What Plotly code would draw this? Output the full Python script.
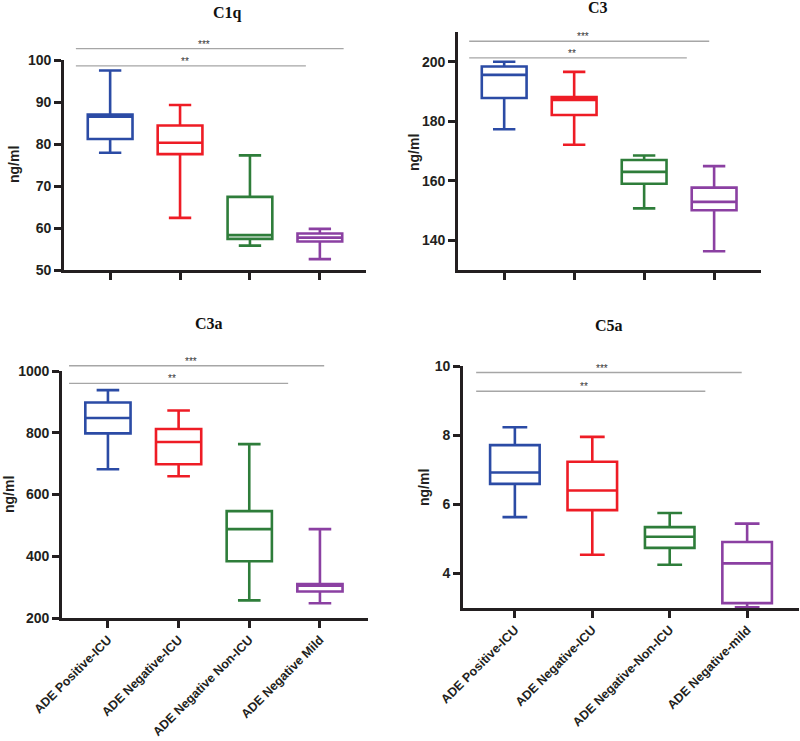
import plotly.graph_objects as go

# categories (bottom row carries the labels)
groups_c3a = ["ADE Positive-ICU", "ADE Negative-ICU", "ADE Negative Non-ICU", "ADE Negative Mild"]
groups_c5a = ["ADE Positive-ICU", "ADE Negative-ICU", "ADE Negative-Non-ICU", "ADE Negative-mild"]

colors = ["#2B4BA5", "#EE1C25", "#2E7D3A", "#8B40A2"]

# box statistics (ng/ml)
c1q_upper = [97.5, 89.3, 77.3, 59.8]
c1q_q3 = [87.0, 84.4, 67.4, 58.7]
c1q_median = [86.5, 80.3, 58.3, 57.7]
c1q_q1 = [81.2, 77.6, 57.4, 56.8]
c1q_lower = [77.9, 62.4, 55.8, 52.6]

c3_upper = [200.0, 196.6, 168.5, 164.9]
c3_q3 = [198.4, 188.1, 167.0, 157.7]
c3_median = [195.6, 187.2, 163.0, 152.9]
c3_q1 = [187.8, 182.1, 159.0, 150.1]
c3_lower = [177.3, 172.1, 150.7, 136.3]

c3a_upper = [938, 872, 763, 488]
c3a_q3 = [898, 812, 546, 310]
c3a_median = [848, 770, 488, 305]
c3a_q1 = [798, 698, 384, 286]
c3a_lower = [682, 659, 257, 248]

c5a_upper = [8.23, 7.95, 5.75, 5.44]
c5a_q3 = [7.71, 7.23, 5.34, 4.91]
c5a_median = [6.92, 6.40, 5.06, 4.29]
c5a_q1 = [6.59, 5.83, 4.74, 3.14]
c5a_lower = [5.63, 4.54, 4.25, 3.02]

# significance bars: (label, y, x start, x end)
c1q_sig = [("***", 102.7, -0.49, 3.34), ("**", 98.6, -0.49, 2.80)]
c3_sig = [("***", 206.9, -0.50, 2.93), ("**", 201.3, -0.50, 2.61)]
c3a_sig = [("***", 1017, -0.55, 3.06), ("**", 960, -0.55, 2.55)]
c5a_sig = [("***", 9.81, -0.50, 2.93), ("**", 9.27, -0.50, 2.46)]

W, H = 800, 741
ink = "#231F20"

panels = [
    dict(name="C1q", cats=groups_c3a, stats=(c1q_lower, c1q_q1, c1q_median, c1q_q3, c1q_upper),
         sig=c1q_sig, yrange=[50, 100], ytick=10, xrange=[-0.66, 3.66],
         box=(64, 366, 60, 270), title=(227, 13), ylab=(14, 165), labels=False),
    dict(name="C3", cats=groups_c5a, stats=(c3_lower, c3_q1, c3_median, c3_q3, c3_upper),
         sig=c3_sig, yrange=[130, 210], ytick=20, xrange=[-0.66, 3.67],
         box=(458, 761, 32, 270), title=(598, 8), ylab=(414, 152), labels=False),
    dict(name="C3a", cats=groups_c3a, stats=(c3a_lower, c3a_q1, c3a_median, c3a_q3, c3a_upper),
         sig=c3a_sig, yrange=[200, 1000], ytick=200, xrange=[-0.65, 3.68],
         box=(62, 368, 371, 618), title=(209, 323), ylab=(9, 495), labels=True),
    dict(name="C5a", cats=groups_c5a, stats=(c5a_lower, c5a_q1, c5a_median, c5a_q3, c5a_upper),
         sig=c5a_sig, yrange=[3, 10], ytick=2, xrange=[-0.67, 3.67],
         box=(463, 799, 366, 608), title=(609, 325), ylab=(424, 488), labels=True),
]

fig = go.Figure()
shapes = []
annotations = []
tickfont = dict(family="Liberation Sans, Arial", size=14, color=ink, weight=700)

for i, p in enumerate(panels):
    n = "" if i == 0 else str(i + 1)
    lo, q1, med, q3, hi = p["stats"]
    for k, cat in enumerate(p["cats"]):
        fig.add_trace(go.Box(
            x=[cat], lowerfence=[lo[k]], q1=[q1[k]], median=[med[k]], q3=[q3[k]], upperfence=[hi[k]],
            xaxis="x" + n, yaxis="y" + n,
            line=dict(color=colors[k], width=2.6), fillcolor="rgba(255,255,255,0)",
            width=0.64, whiskerwidth=0.5, boxpoints=False, showlegend=False,
        ))

    x0, x1, y0, y1 = p["box"]
    fig.update_layout(**{
        "xaxis" + n: dict(
            domain=[x0 / W, x1 / W], anchor="y" + n, type="category",
            categoryorder="array", categoryarray=p["cats"], range=p["xrange"],
            showline=True, linecolor=ink, linewidth=2.6, ticks="outside",
            ticklen=7, tickwidth=2.6, tickcolor=ink, showgrid=False, zeroline=False,
            showticklabels=p["labels"], tickangle=-45, automargin=False,
            tickfont=dict(family="Liberation Sans, Arial", size=12.5, color=ink, weight=700),
        ),
        "yaxis" + n: dict(
            domain=[1 - y1 / H, 1 - y0 / H], anchor="x" + n, range=p["yrange"],
            dtick=p["ytick"], tick0=0, showline=True, linecolor=ink, linewidth=2.6,
            ticks="outside", ticklen=7, tickwidth=2.6, tickcolor=ink, automargin=False,
            showgrid=False, zeroline=False, tickfont=tickfont,
        ),
    })

    # significance bars, placed through the axis ranges (domain refs are not clipped)
    yr, xr = p["yrange"], p["xrange"]
    for label, yv, xa, xb in p["sig"]:
        yd = (yv - yr[0]) / (yr[1] - yr[0])
        xda = (xa - xr[0]) / (xr[1] - xr[0])
        xdb = (xb - xr[0]) / (xr[1] - xr[0])
        shapes.append(dict(type="line", xref="x" + n + " domain", yref="y" + n + " domain",
                           x0=xda, x1=xdb, y0=yd, y1=yd,
                           line=dict(color="#A6A6A6", width=1.4)))
        annotations.append(dict(text=label, xref="x" + n + " domain", yref="y" + n + " domain",
                                x=(xda + xdb) / 2 - 0.02, y=yd, xanchor="center", yanchor="bottom",
                                yshift=-3, showarrow=False,
                                font=dict(family="Liberation Sans", size=10, color="#333333")))

    tx, ty = p["title"]
    annotations.append(dict(text="<b>" + p["name"] + "</b>", xref="paper", yref="paper",
                            x=tx / W, y=1 - ty / H, xanchor="center", yanchor="middle", showarrow=False,
                            font=dict(family="Liberation Serif, Times New Roman", size=16, color="#111")))
    lx, ly = p["ylab"]
    annotations.append(dict(text="<b>ng/ml</b>", xref="paper", yref="paper", textangle=-90,
                            x=lx / W, y=1 - ly / H, xanchor="center", yanchor="middle", showarrow=False,
                            font=dict(family="Liberation Sans, Arial", size=14, color=ink)))

fig.update_layout(
    width=W, height=H, autosize=False,
    margin=dict(l=0, r=0, t=0, b=0, autoexpand=False),
    paper_bgcolor="white", plot_bgcolor="white",
    boxmode="overlay", shapes=shapes, annotations=annotations,
)

# the page's default body margin would push the figure off the window
fig.write_html("out.html", config={"displayModeBar": False},
               post_script="document.body.style.margin='0';")
